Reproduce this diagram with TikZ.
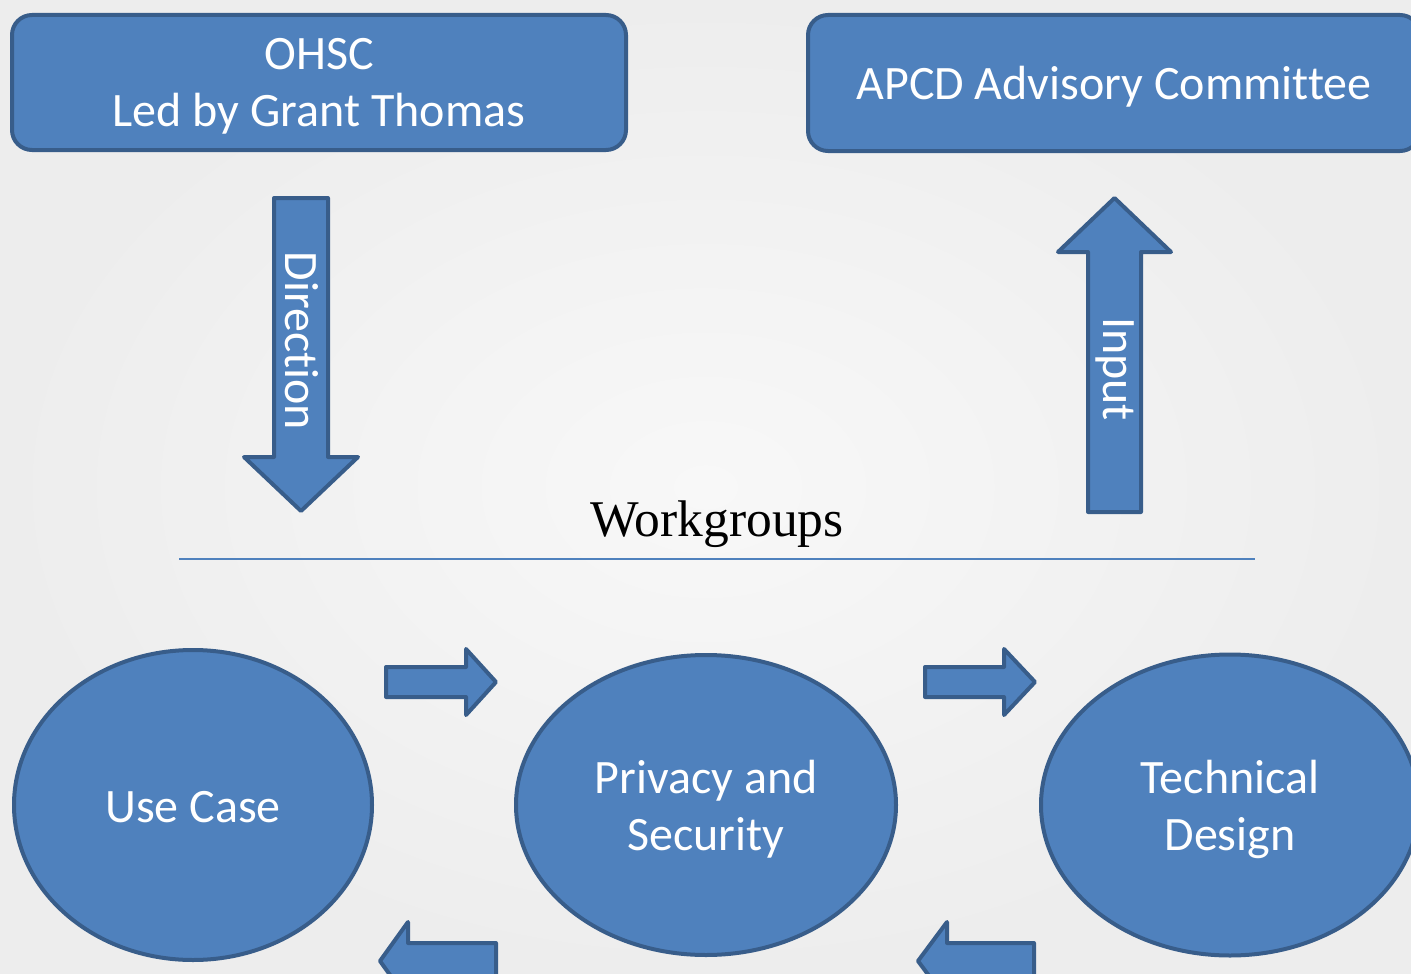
\documentclass[tikz,border=0pt]{standalone}
\usepackage{fontspec}
\setmainfont{Carlito}[Ligatures=NoCommon]
\newfontfamily\wgfont{Liberation Serif}
\usetikzlibrary{shapes.geometric}
\definecolor{boxfill}{HTML}{4F81BD}
\definecolor{boxline}{HTML}{385D8A}
\definecolor{bgin}{HTML}{F8F8F8}
\definecolor{bgout}{HTML}{EDEDED}
\begin{document}
\begin{tikzpicture}[x=1pt,y=-1pt,
  shapefill/.style={fill=boxfill, draw=boxline, line width=4pt, line join=round},
  lbl/.style={text=white, font=\fontsize{48}{57}\selectfont, align=center, inner sep=0pt},
  topbox/.style={shapefill, rectangle, rounded corners=20pt, inner sep=0pt},
  wg/.style={shapefill, ellipse, inner sep=0pt},
]
\clip (0,0) rectangle (1411,974);
\shade[inner color=bgin, outer color=bgout] (0,0) rectangle (1411,974);

% top boxes
\node[topbox, minimum width=614pt, minimum height=135pt] (ohsc) at (319,82.5) {};
\node[lbl] (ohsc-text) at ([yshift=-4pt]ohsc.center) {OHSC\\Led by Grant Thomas};
\node[topbox, minimum width=612pt, minimum height=136pt] (apcd) at (1114,83) {};
\node[lbl] (apcd-text) at ([yshift=-4pt]apcd.center) {APCD Advisory Committee};

% Direction arrow
\draw[shapefill] (274,198) -- (328,198) -- (328,457) -- (358,457) -- (301,511) -- (244,457) -- (274,457) -- cycle;
\node[lbl, rotate=-90] (direction) at (302,341) {Direction};

% Input arrow
\draw[shapefill] (1088,512) -- (1141,512) -- (1141,252) -- (1171,252) -- (1114.5,198) -- (1058,252) -- (1088,252) -- cycle;
\node[lbl, rotate=-90] (input) at (1115,369) {Input};

% Workgroups title and rule
\node[font=\wgfont\fontsize{51.5}{60}\selectfont, anchor=base, inner sep=0pt] (wgtitle) at (717,536) {Workgroups};
\coordinate (ruleL) at (179,559);
\coordinate (ruleR) at (1255,559);
\draw[boxfill, line width=2pt] (ruleL) -- (ruleR);

% workgroup ellipses
\node[wg, minimum width=358pt, minimum height=310pt] (usecase) at (193,805) {};
\node[lbl] (usecase-text) at ([yshift=-2pt]usecase.center) {Use Case};
\node[wg, minimum width=380pt, minimum height=300pt] (privacy) at (706,805) {};
\node[lbl] (privacy-text) at ([yshift=-4pt]privacy.center) {Privacy and\\Security};
\node[wg, minimum width=378pt, minimum height=301pt] (technical) at (1230,805) {};
\node[lbl] (technical-text) at ([yshift=-4pt]technical.center) {Technical\\Design};

% block arrows between workgroups
\draw[shapefill] (386,667) -- (466,667) -- (466,649) -- (496,682) -- (466,715) -- (466,697) -- (386,697) -- cycle;
\draw[shapefill] (925,667) -- (1004,667) -- (1004,649) -- (1035,682) -- (1004,715) -- (1004,697) -- (925,697) -- cycle;
\draw[shapefill] (496,943) -- (408,943) -- (408,922) -- (380,961) -- (408,1000) -- (408,981) -- (496,981) -- cycle;
\draw[shapefill] (1034,943) -- (947,943) -- (947,922) -- (918,961) -- (947,1000) -- (947,981) -- (1034,981) -- cycle;
\end{tikzpicture}
\end{document}
